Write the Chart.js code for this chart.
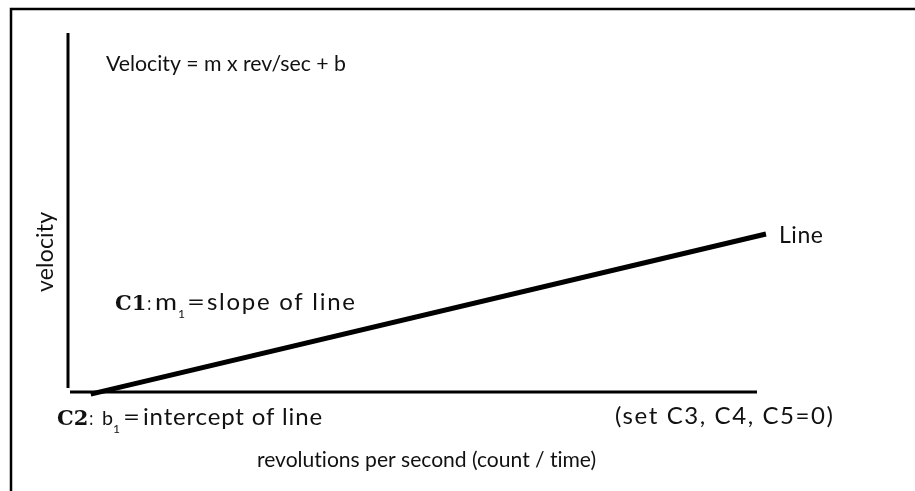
<!DOCTYPE html>
<html>
<head>
<meta charset="utf-8">
<script src="https://cdn.jsdelivr.net/npm/chart.js@4"></script>
<style>
  body { margin: 0; background: #fff; }
  #wrap { width: 915px; height: 491px; }
</style>
</head>
<body>
<div id="wrap"><canvas id="myChart"></canvas></div>
<script>
// rev/sec (x) and velocity (y), in axis units 0..10
const revPerSec = [0.33, 10.13];
const velocity = [-0.06, 4.4];
const seriesName = 'Line';
const xTitle = 'revolutions per second (count / time)';
const yTitle = 'velocity';

const FONT = 'Lato, "Open Sans", sans-serif';
const BOLD = 'bold 21px "DejaVu Serif", serif';

// draw text so that it fills a given width (size first, then spacing)
function fit(ctx, text, x, y, width, size, family) {
  ctx.letterSpacing = '0px';
  ctx.font = size + 'px ' + family;
  let w = ctx.measureText(text).width;
  const s = Math.max(size - 2, Math.min(size + 2, size * width / w));
  ctx.font = s.toFixed(1) + 'px ' + family;
  w = ctx.measureText(text).width;
  const n = [...text].length;
  if (n < 2) {
    ctx.save();
    ctx.translate(x, y);
    ctx.scale(width / w, 1);
    ctx.fillText(text, 0, 0);
    ctx.restore();
    return;
  }
  ctx.letterSpacing = ((width - w) / (n - 1)).toFixed(2) + 'px';
  ctx.fillText(text, x, y);
  ctx.letterSpacing = '0px';
}

// bold cell name followed by a colon; returns nothing
function boldLabel(ctx, text, x, y) {
  ctx.letterSpacing = '0px';
  ctx.font = BOLD;
  ctx.fillText(text, x, y);
  const w = ctx.measureText(text).width;
  fit(ctx, ':', x + w + 1, y, 4, 21, FONT);
}

const decor = {
  id: 'decor',
  afterDatasetsDraw(chart) {
    const ctx = chart.ctx;
    const a = chart.chartArea;
    ctx.save();
    ctx.fillStyle = '#111';
    ctx.strokeStyle = '#000';

    // frame
    ctx.lineWidth = 2.5;
    ctx.strokeRect(11, 9, 1200, 1200);

    // axes
    ctx.lineWidth = 3;
    ctx.beginPath();
    ctx.moveTo(a.left, a.top);
    ctx.lineTo(a.left, a.bottom - 4);
    ctx.moveTo(a.left + 2, a.bottom);
    ctx.lineTo(a.right, a.bottom);
    ctx.stroke();

    ctx.textBaseline = 'alphabetic';
    ctx.textAlign = 'left';

    fit(ctx, 'Velocity = m x rev/sec + b', 106, 71, 240, 21, FONT);

    boldLabel(ctx, 'C1', 115, 310);
    fit(ctx, 'm', 155, 310, 22, 21, FONT);
    fit(ctx, '1', 178, 318, 7, 14, FONT);
    fit(ctx, '=', 187, 310, 18, 21, FONT);
    fit(ctx, 'slope of line', 207, 310, 148, 22, FONT);

    boldLabel(ctx, 'C2', 57, 425);
    fit(ctx, 'b', 102, 425, 11, 21, FONT);
    fit(ctx, '1', 113, 433, 7, 14, FONT);
    fit(ctx, '=', 123, 425, 17, 21, FONT);
    fit(ctx, 'intercept of line', 143, 425, 179, 22, FONT);

    fit(ctx, '(set C3, C4, C5=0)', 615, 424, 218, 22, FONT);

    // series label at the end of the line
    const meta = chart.getDatasetMeta(0);
    const last = meta.data[meta.data.length - 1];
    fit(ctx, seriesName, last.x + 13, last.y + 9, 44, 21, FONT);

    // axis titles
    fit(ctx, xTitle, 257, 467, 340, 21, FONT);
    ctx.translate(53, 292);
    ctx.rotate(-Math.PI / 2);
    fit(ctx, yTitle, 0, 0, 80, 21, FONT);
    ctx.restore();
  }
};

const ctx = document.getElementById('myChart').getContext('2d');
new Chart(ctx, {
  type: 'scatter',
  data: {
    datasets: [{
      label: seriesName,
      data: revPerSec.map((x, i) => ({ x: x, y: velocity[i] })),
      showLine: true,
      borderColor: '#000',
      borderWidth: 5,
      pointRadius: 0,
      borderCapStyle: 'butt',
      clip: false
    }]
  },
  options: {
    responsive: true,
    maintainAspectRatio: false,
    animation: false,
    layout: { padding: { left: 68, right: 158, top: 33, bottom: 99 } },
    plugins: { legend: { display: false }, tooltip: { enabled: false } },
    scales: {
      x: { type: 'linear', min: 0, max: 10, display: false },
      y: { type: 'linear', min: 0, max: 10, display: false }
    }
  },
  plugins: [decor]
});
</script>
</body>
</html>
